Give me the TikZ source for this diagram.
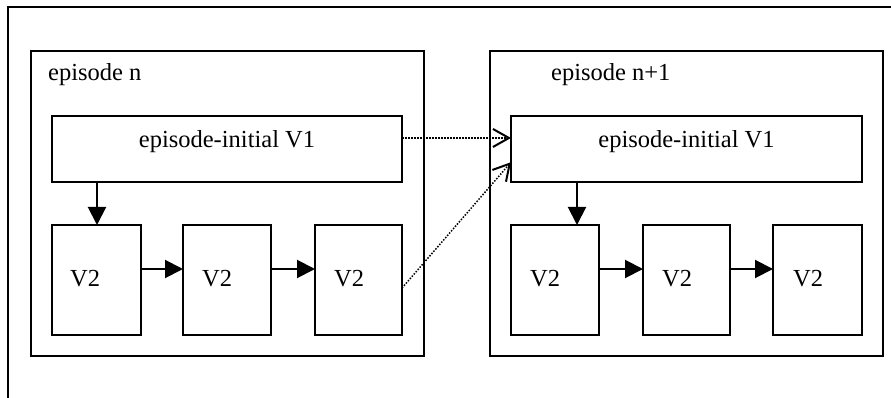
\documentclass[tikz,border=0pt]{standalone}
\usepackage{fontspec}
\setmainfont{Liberation Serif}
\usetikzlibrary{arrows.meta,calc}
\begin{document}
\begin{tikzpicture}[x=1pt,y=-1pt,
  frame/.style={draw=black,line width=2pt},
  boxnode/.style={draw=black,line width=2pt,inner sep=0pt,outer sep=0pt},
  txt/.style={font=\fontsize{24.5}{28}\selectfont,inner sep=0pt,anchor=base},
  txtw/.style={font=\fontsize{24.5}{28}\selectfont,inner sep=0pt,anchor=base west},
  flow/.style={line width=2pt,-{Triangle[length=18pt,width=18pt]}},
  dotline/.style={line width=1.5pt,dash pattern=on 1.5pt off 1.5pt,-{Straight Barb[length=16pt,width=18pt,line width=2pt]}}]
\useasboundingbox (0,0) rectangle (891,398);
\fill[white] (0,0) rectangle (891,398);
% outer frame (top and left edges only)
\draw[frame] (8,398) -- (8,7) -- (891,7);
% episode containers
\node[boxnode,minimum width=393pt,minimum height=305pt] (epn) at (227.5,203.5) {};
\node[boxnode,minimum width=393pt,minimum height=305pt] (epm) at (686.5,203.5) {};
\node[txtw] (lepn) at (48,81) {episode n};
\node[txtw] (lepm) at (551,81) {episode n+1};
% left episode
\node[boxnode,minimum width=350pt,minimum height=66pt] (a1) at (227,149) {};
\node[txt] (ta1) at (227,148) {episode-initial V1};
\node[boxnode,minimum width=89pt,minimum height=110pt] (c1) at (96.5,280) {};
\node[boxnode,minimum width=88pt,minimum height=110pt] (c2) at (227,280) {};
\node[boxnode,minimum width=87pt,minimum height=110pt] (c3) at (358.5,280) {};
\node[txtw] (tc1) at (70,286) {V2};
\node[txtw] (tc2) at (202,286) {V2};
\node[txtw] (tc3) at (334,286) {V2};
% right episode
\node[boxnode,minimum width=351pt,minimum height=66pt] (b1) at (686.5,149) {};
\node[txt] (tb1) at (686.5,148) {episode-initial V1};
\node[boxnode,minimum width=88pt,minimum height=110pt] (d1) at (555,280) {};
\node[boxnode,minimum width=87pt,minimum height=110pt] (d2) at (686.5,280) {};
\node[boxnode,minimum width=89pt,minimum height=110pt] (d3) at (817.5,280) {};
\node[txtw] (td1) at (530,286) {V2};
\node[txtw] (td2) at (662,286) {V2};
\node[txtw] (td3) at (793,286) {V2};
% solid arrows
\draw[flow] (a1.south -| 97,0) -- (c1.north -| 97,0);
\draw[flow] ($(c1.north east)!0.4!(c1.south east)$) -- ($(c2.north west)!0.4!(c2.south west)$);
\draw[flow] ($(c2.north east)!0.4!(c2.south east)$) -- ($(c3.north west)!0.4!(c3.south west)$);
\draw[flow] (b1.south -| 577,0) -- (d1.north -| 577,0);
\draw[flow] ($(d1.north east)!0.4!(d1.south east)$) -- ($(d2.north west)!0.4!(d2.south west)$);
\draw[flow] ($(d2.north east)!0.4!(d2.south east)$) -- ($(d3.north west)!0.4!(d3.south west)$);
% dotted arrows
\draw[dotline] ($(a1.north east)!0.333!(a1.south east)$) -- ($(b1.north west)!0.333!(b1.south west)$);
\draw[dotline] ($(c3.north east)!0.573!(c3.south east)$) -- ($(b1.north west)!0.70!(b1.south west)$);
\end{tikzpicture}
\end{document}
